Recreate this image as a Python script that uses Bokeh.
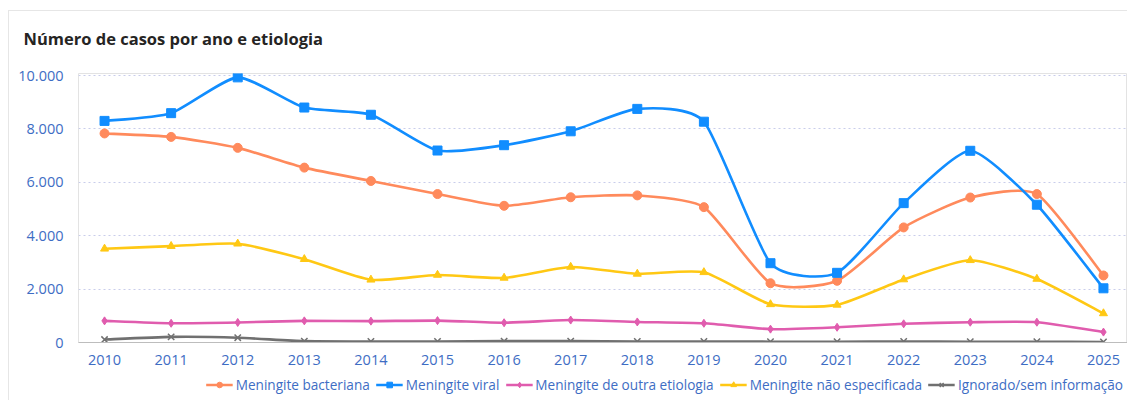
import numpy as np
from bokeh.plotting import figure
from bokeh.layouts import column
from bokeh.models import Range1d, FixedTicker, CustomJSTickFormatter, Legend, LegendItem, ColumnDataSource
from bokeh.embed import file_html
from bokeh.resources import INLINE

years = list(range(2010, 2026))
bacteriana = [7830, 7700, 7290, 6550, 6050, 5560, 5120, 5440, 5510, 5070, 2220, 2310, 4310, 5430, 5560, 2510]
viral = [8300, 8590, 9930, 8800, 8530, 7190, 7390, 7910, 8750, 8270, 2970, 2610, 5220, 7180, 5160, 2030]
outra = [810, 720, 750, 810, 800, 820, 740, 840, 770, 720, 500, 570, 700, 760, 760, 390]
nao_espec = [3510, 3610, 3700, 3120, 2350, 2530, 2420, 2830, 2570, 2630, 1430, 1410, 2360, 3080, 2380, 1090]
ignorado = [110, 210, 180, 50, 40, 40, 50, 50, 40, 40, 30, 30, 40, 30, 30, 20]

series_names = ["Meningite bacteriana", "Meningite viral", "Meningite de outra etiologia",
                "Meningite não especificada", "Ignorado/sem informação"]
series_values = [bacteriana, viral, outra, nao_espec, ignorado]
colors = ["#FF8A5C", "#118DFF", "#E05CAE", "#FFC814", "#707070"]
markers = ["circle", "square", "diamond", "triangle", "x"]
msizes = [9, 9, 8, 8, 9]
y_ticks = [0, 2000, 4000, 6000, 8000, 10000]

FONT = "Open Sans"
TXT = "#3E6DC4"

p = figure(width=1127, height=368, output_backend="svg", toolbar_location=None,
           x_range=Range1d(2009.609, 2025.361), y_range=Range1d(0, 10075),
           min_border_left=78, min_border_right=0, min_border_top=73, min_border_bottom=26)
p.border_fill_alpha = 0
p.background_fill_color = "white"

p.title.text = "Número de casos por ano e etiologia"
p.title.text_font = FONT
p.title.text_font_size = "16.5px"
p.title.text_font_style = "bold"
p.title.text_color = "#252423"
p.title.align = "left"
p.title.offset = -55
p.title.standoff = 47

p.outline_line_color = "#E3E3E3"
p.xgrid.grid_line_color = None
p.ygrid.grid_line_color = "#C9CDEB"
p.ygrid.grid_line_dash = "2 3"
p.ygrid.grid_line_width = 1

p.yaxis.ticker = FixedTicker(ticks=y_ticks)
p.yaxis.formatter = CustomJSTickFormatter(code="return String(Math.round(tick)).replace(/\\B(?=(\\d{3})+(?!\\d))/g, '.');")
p.xaxis.ticker = FixedTicker(ticks=years)
p.xaxis.formatter = CustomJSTickFormatter(code="return String(Math.round(tick));")
for ax in (p.xaxis[0], p.yaxis[0]):
    ax.axis_line_color = None
    ax.major_tick_line_color = None
    ax.minor_tick_line_color = None
    ax.major_label_text_font = FONT
    ax.major_label_text_font_size = "14.5px"
    ax.major_label_text_color = TXT
p.yaxis.major_label_standoff = 9
p.xaxis.major_label_standoff = 6
p.xaxis.axis_line_color = "#BDBDBD"


def smooth_segments(xs, ys, k=0.1):
    x = np.asarray(xs, float)
    y = np.asarray(ys, float)
    n = len(x)
    xp = np.concatenate([[x[0]], x, [x[-1]]])
    yp = np.concatenate([[y[0]], y, [y[-1]]])
    return dict(
        x0=x[:-1], y0=y[:-1], x1=x[1:], y1=y[1:],
        cx0=x[:-1] + (xp[2:n + 1] - xp[0:n - 1]) * k,
        cy0=y[:-1] + (yp[2:n + 1] - yp[0:n - 1]) * k,
        cx1=x[1:] - (xp[3:n + 2] - xp[1:n]) * k,
        cy1=y[1:] - (yp[3:n + 2] - yp[1:n]) * k,
    )


order = [4, 3, 2, 0, 1]
for i in order:
    vals, c, m, s = series_values[i], colors[i], markers[i], msizes[i]
    seg = ColumnDataSource(smooth_segments(years, vals))
    p.bezier(x0="x0", y0="y0", x1="x1", y1="y1", cx0="cx0", cy0="cy0", cx1="cx1", cy1="cy1",
             source=seg, line_color=c, line_width=2.6)
    if m == "x":
        p.scatter(x=years, y=vals, marker=m, size=s, line_color=c, line_width=1.5, fill_color=c)
    else:
        p.scatter(x=years, y=vals, marker=m, size=s, line_color=c, fill_color=c)

# Legend strip below the chart
lf = figure(width=1127, height=32, output_backend="svg", toolbar_location=None,
            x_range=Range1d(0, 1), y_range=Range1d(0, 1),
            min_border_left=0, min_border_right=0, min_border_top=0, min_border_bottom=0)
lf.axis.visible = False
lf.grid.visible = False
lf.outline_line_color = None
lf.border_fill_alpha = 0
lf.background_fill_alpha = 0
items = []
for i in range(5):
    c, m, s = colors[i], markers[i], msizes[i]
    lr = lf.line(x=[-1, -1], y=[-1, -1], line_color=c, line_width=2.6)
    if m == "x":
        sr = lf.scatter(x=[-1], y=[-1], marker=m, size=s, line_color=c, line_width=1.5, fill_color=c)
    else:
        sr = lf.scatter(x=[-1], y=[-1], marker=m, size=s, line_color=c, fill_color=c)
    items.append(LegendItem(label=series_names[i], renderers=[lr, sr]))

legend = Legend(items=items, orientation="horizontal", location="right",
                label_text_font=FONT, label_text_font_size="13.6px", label_text_color=TXT,
                glyph_width=27, glyph_height=14, label_standoff=3, spacing=6,
                padding=0, margin=4, border_line_color=None, background_fill_alpha=0)
legend.label_height = 14
lf.add_layout(legend, "center")

card = ("linear-gradient(#E6E6E6,#E6E6E6) 8px 10px / 1px 100% no-repeat, "
        "linear-gradient(#E6E6E6,#E6E6E6) 8px 10px / 100% 1px no-repeat, white")
layout = column(p, lf, spacing=0, styles={"background": card})
open("out.html", "w").write(file_html(layout, INLINE))
